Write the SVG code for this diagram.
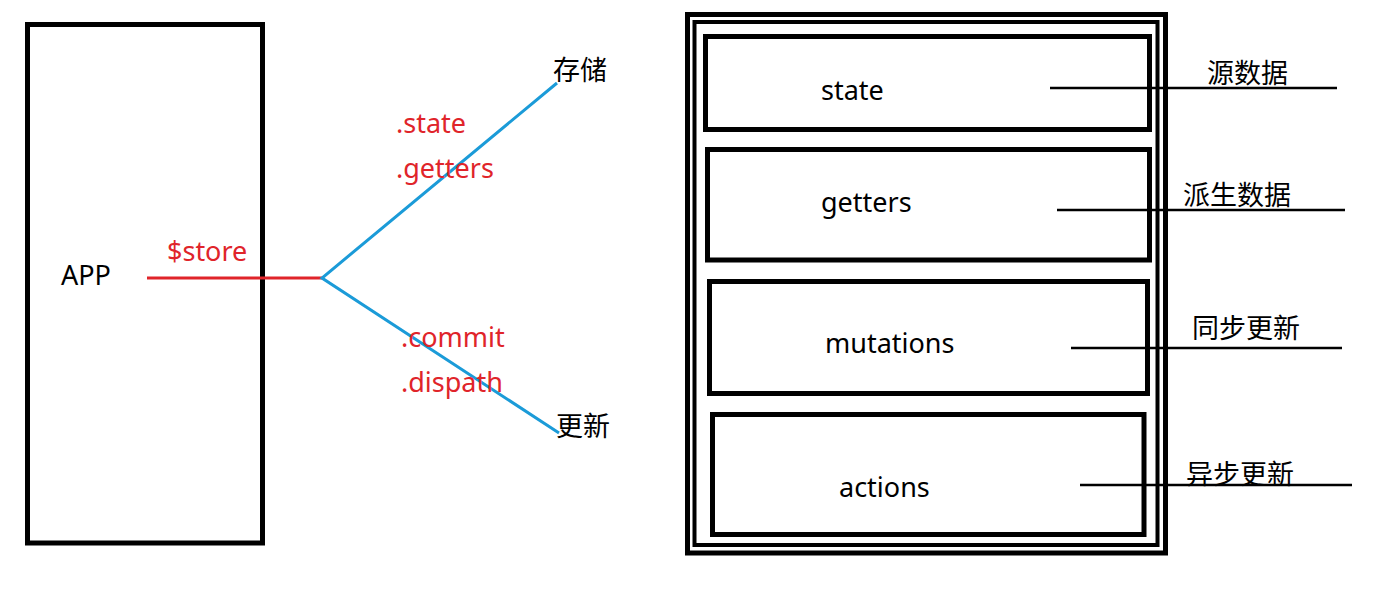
<svg xmlns="http://www.w3.org/2000/svg" width="1382" height="598" viewBox="0 0 1382 598">
<style>
.box{fill:none;stroke:#000;stroke-width:5}
.frame{fill:none;stroke:#000}
.t{font-family:"Noto Sans","Noto Sans CJK SC",sans-serif;font-size:27px;fill:#000}
.r{fill:#e0242a}
.cjk{font-family:"Noto Sans CJK SC","Noto Sans",sans-serif;font-size:27px;fill:#000}
.blue{stroke:#1b9bd8;stroke-width:3;fill:none}
.red{stroke:#e0242a;stroke-width:3;fill:none}
.blk{stroke:#000;stroke-width:2.5;fill:none}
</style>
<rect width="1382" height="598" fill="#fff"/>
<g id="app">
<rect class="box" x="27.5" y="24.5" width="235" height="518.5"/>
<text class="t" x="61" y="285" font-size="28.5">APP</text>
</g>
<g id="store-frame">
<rect class="frame" x="687.5" y="14.5" width="478" height="538.5" stroke-width="5"/>
<rect class="frame" x="694.5" y="22" width="463" height="523" stroke-width="4"/>
</g>
<g id="state">
<rect class="box" x="705.5" y="36.5" width="444" height="93"/>
<text class="t" x="821" y="100">state</text>
</g>
<g id="getters">
<rect class="box" x="707.5" y="149.5" width="442" height="110.5"/>
<text class="t" x="821" y="212">getters</text>
</g>
<g id="mutations">
<rect class="box" x="709.5" y="281.5" width="438" height="112"/>
<text class="t" x="825" y="353" font-size="27.5">mutations</text>
</g>
<g id="actions">
<rect class="box" x="712.5" y="414.5" width="431.5" height="120"/>
<text class="t" x="839" y="497">actions</text>
</g>
<g id="label-storage"><text class="cjk" x="553" y="80">存储</text></g>
<g id="label-update"><text class="cjk" x="556" y="436">更新</text></g>
<g id="label-source"><text class="cjk" x="1207" y="83">源数据</text></g>
<g id="label-derived"><text class="cjk" x="1183" y="205">派生数据</text></g>
<g id="label-sync"><text class="cjk" x="1192" y="338">同步更新</text></g>
<g id="label-async"><text class="cjk" x="1186" y="484">异步更新</text></g>
<g id="connectors">
<line class="red" x1="147" y1="278" x2="322" y2="278"/>
<polyline class="blue" points="557,83 322,278 559,433"/>
<line class="blk" x1="1050" y1="88" x2="1337" y2="88"/>
<line class="blk" x1="1057" y1="210" x2="1345" y2="210"/>
<line class="blk" x1="1071" y1="348" x2="1342" y2="348"/>
<line class="blk" x1="1080" y1="485" x2="1352" y2="485"/>
</g>
<g id="connector-labels">
<text class="t r" x="167" y="261">$store</text>
<text class="t r" x="396" y="133">.state</text>
<text class="t r" x="396" y="178">.getters</text>
<text class="t r" x="401" y="347">.commit</text>
<text class="t r" x="401" y="392">.dispath</text>
</g>
</svg>
